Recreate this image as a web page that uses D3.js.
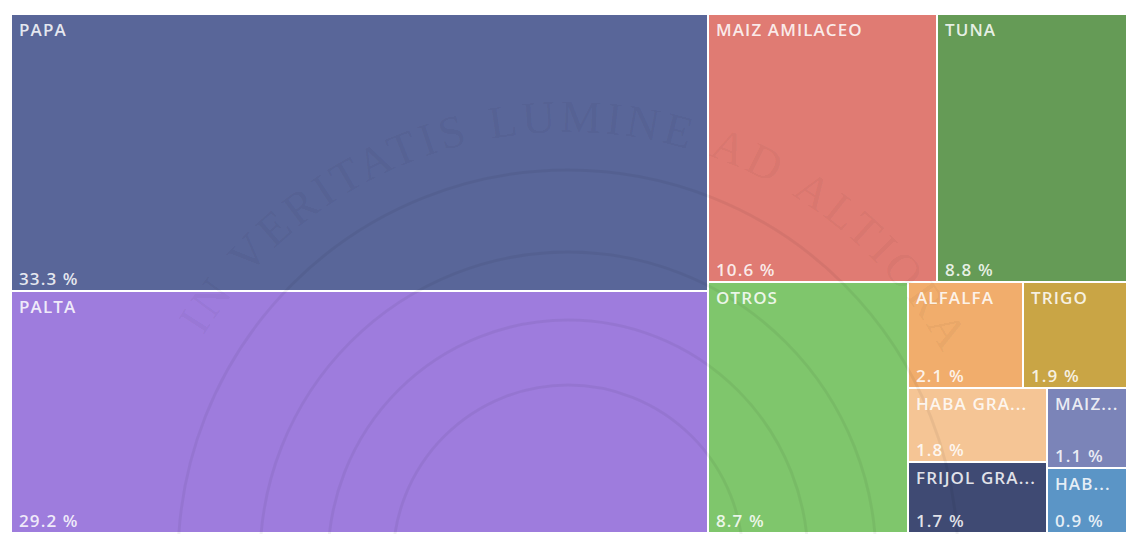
<!DOCTYPE html>
<html>
<head>
<meta charset="utf-8">
<script src="https://cdn.jsdelivr.net/npm/d3@7"></script>
<style>
  body { margin: 0; background: #fff; }
  svg { display: block; }
</style>
</head>
<body>
<svg width="1126" height="534"></svg>
<script>
// cultivos y su participacion (%)
var cultivos = ['PAPA', 'PALTA', 'MAIZ AMILACEO', 'TUNA', 'OTROS', 'ALFALFA', 'TRIGO', 'HABA GRA...', 'FRIJOL GRA...', 'MAIZ...', 'HAB...'];
var porcentajes = [33.3, 29.2, 10.6, 8.8, 8.7, 2.1, 1.9, 1.8, 1.7, 1.1, 0.9];
var colores = ['#596699', '#9e7cdd', '#e07b73', '#659b56', '#7fc66c', '#f1ad6c', '#c9a545', '#f5c595', '#3f4a73', '#7b84b8', '#5b95c6'];

var svg = d3.select('svg');
var margin = {left: 12, top: 15};
var innerWidth = 1114, innerHeight = 517;

var data = cultivos.map((c, i) => ({name: c, value: porcentajes[i], color: colores[i]}));

var root = d3.hierarchy({children: data}).sum(d => d.value);

d3.treemap()
  .tile(d3.treemapSquarify.ratio(1.44))
  .size([innerWidth, innerHeight])
  .paddingInner(2)
  .round(true)(root);

// marca de agua (debajo de las etiquetas)
var cx = 568, cy = 560;
function marcaAgua(sel) {
  [390, 308, 240, 175].forEach(r => {
    sel.append('circle')
      .attr('cx', cx).attr('cy', cy).attr('r', r)
      .attr('fill', 'none')
      .attr('stroke', '#000')
      .attr('stroke-opacity', 0.05)
      .attr('stroke-width', 3);
  });
  var p = d3.path();
  p.arc(cx, cy, 428, Math.PI * 1.175, Math.PI * 2.3);
  sel.append('path')
    .attr('id', 'arcoTexto')
    .attr('fill', 'none')
    .attr('d', p.toString());
  sel.append('text')
    .style('font', '46px "Liberation Serif", serif')
    .attr('fill', '#000')
    .attr('fill-opacity', 0.055)
    .attr('letter-spacing', 4)
    .attr('word-spacing', 4)
    .append('textPath')
    .attr('href', '#arcoTexto')
    .text('IN VERITATIS LUMINE AD ALTIORA');
}

var g = svg.append('g').attr('transform', `translate(${margin.left},${margin.top})`);

g.selectAll('rect')
  .data(root.leaves())
  .enter()
  .append('rect')
  .attr('x', d => d.x0)
  .attr('y', d => d.y0)
  .attr('width', d => d.x1 - d.x0)
  .attr('height', d => d.y1 - d.y0)
  .attr('fill', d => d.data.color);

marcaAgua(svg.append('g').attr('pointer-events', 'none'));

var fuente = '600 17px "Open Sans", sans-serif';

var etiquetas = svg.append('g').attr('transform', `translate(${margin.left},${margin.top})`);

etiquetas.selectAll('text.nombre')
  .data(root.leaves())
  .enter()
  .append('text')
  .attr('class', 'nombre')
  .attr('x', d => d.x0 + 7)
  .attr('y', d => d.y0 + 21)
  .attr('fill', '#fff')
  .attr('fill-opacity', 0.85)
  .attr('letter-spacing', 1.1)
  .style('font', fuente)
  .text(d => d.data.name);

etiquetas.selectAll('text.pct')
  .data(root.leaves())
  .enter()
  .append('text')
  .attr('class', 'pct')
  .attr('x', d => d.x0 + 7)
  .attr('y', d => d.y1 - 5)
  .attr('fill', '#fff')
  .attr('fill-opacity', 0.85)
  .attr('letter-spacing', 1.1)
  .style('font', fuente)
  .text(d => d.data.value.toFixed(1) + ' %');
</script>
</body>
</html>
